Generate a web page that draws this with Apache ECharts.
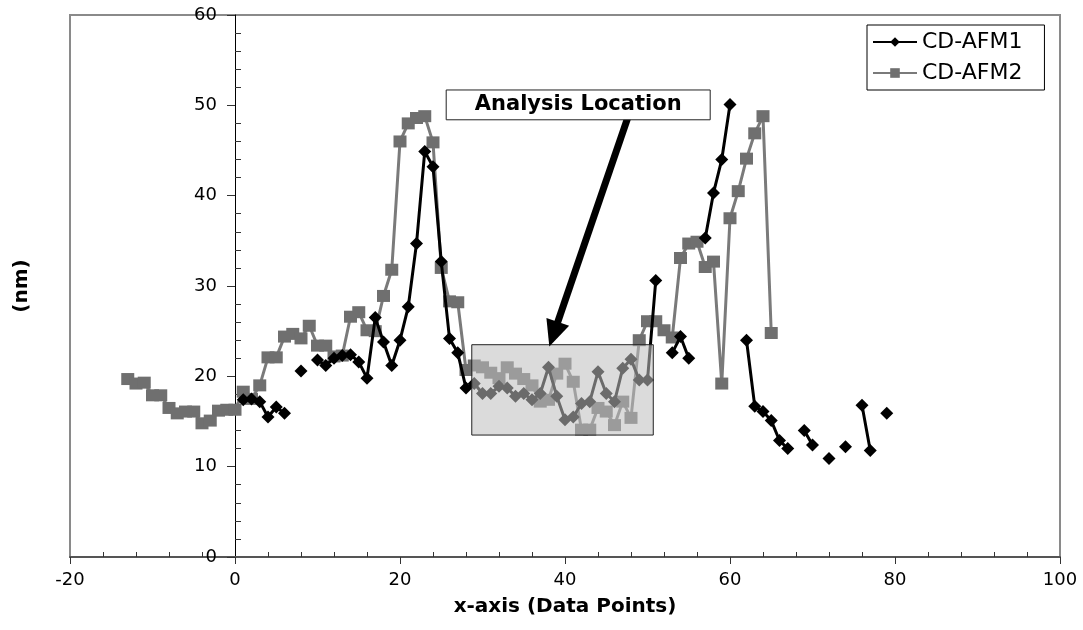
<!DOCTYPE html>
<html>
<head>
<meta charset="utf-8">
<script src="https://cdn.jsdelivr.net/npm/echarts@6/dist/echarts.min.js"></script>
<style>
    html, body { margin: 0; padding: 0; background: #fff; }
    #box { width: 1083px; height: 630px; }
</style>
</head>
<body>
<div id="box"></div>
<script>
/* data */
var afm1X = [1, 2, 3, 4, 5, 6, 7, 8, 9, 10, 11, 12, 13, 14, 15, 16, 17, 18, 19, 20,
    21, 22, 23, 24, 25, 26, 27, 28, 29, 30, 31, 32, 33, 34, 35, 36, 37, 38, 39, 40,
    41, 42, 43, 44, 45, 46, 47, 48, 49, 50, 51, 52, 53, 54, 55, 56, 57, 58, 59, 60,
    61, 62, 63, 64, 65, 66, 67, 68, 69, 70, 71, 72, 73, 74, 75, 76, 77, 78, 79];
var afm1Y = [17.4, 17.5, 17.2, 15.5, 16.6, 15.9, null, 20.6, null, 21.8, 21.2, 22.0, 22.3, 22.4, 21.6, 19.8, 26.5, 23.8, 21.2, 24.0,
    27.7, 34.7, 44.9, 43.2, 32.7, 24.2, 22.6, 18.7, 19.2, 18.1, 18.1, 18.9, 18.7, 17.8, 18.1, 17.4, 18.1, 21.0, 17.8, 15.2,
    15.5, 17.0, 17.2, 20.5, 18.1, 17.2, 20.9, 21.9, 19.6, 19.6, 30.6, null, 22.6, 24.4, 22.0, null, 35.3, 40.3, 44.0, 50.1,
    null, 24.0, 16.7, 16.1, 15.1, 12.9, 12.0, null, 14.0, 12.4, null, 10.9, null, 12.2, null, 16.8, 11.8, null, 15.9];

var afm2X = [-13, -12, -11, -10, -9, -8, -7, -6, -5, -4, -3, -2, -1, 0, 1, 2, 3, 4, 5, 6,
    7, 8, 9, 10, 11, 12, 13, 14, 15, 16, 17, 18, 19, 20, 21, 22, 23, 24, 25, 26,
    27, 28, 29, 30, 31, 32, 33, 34, 35, 36, 37, 38, 39, 40, 41, 42, 43, 44, 45, 46,
    47, 48, 49, 50, 51, 52, 53, 54, 55, 56, 57, 58, 59, 60, 61, 62, 63, 64, 65];
var afm2Y = [19.7, 19.2, 19.3, 17.9, 17.9, 16.5, 15.9, 16.1, 16.1, 14.8, 15.1, 16.2, 16.3, 16.3, 18.3, 17.5, 19.0, 22.1, 22.1, 24.4,
    24.7, 24.2, 25.6, 23.4, 23.4, 22.2, 22.3, 26.6, 27.1, 25.1, 25.0, 28.9, 31.8, 46.0, 48.0, 48.6, 48.8, 45.9, 32.0, 28.3,
    28.2, 20.7, 21.2, 21.0, 20.4, 19.8, 21.0, 20.3, 19.7, 19.0, 17.2, 17.4, 20.3, 21.4, 19.4, 14.1, 14.1, 16.5, 16.1, 14.6,
    17.2, 15.4, 24.0, 26.1, 26.1, 25.1, 24.3, 33.1, 34.7, 34.9, 32.1, 32.7, 19.2, 37.5, 40.5, 44.1, 46.9, 48.8, 24.8];

var seriesNames = ['CD-AFM1', 'CD-AFM2'];
var xTicks = { min: -20, max: 100, step: 20 };
var yTicks = { min: 0, max: 60, step: 10 };

/* annotation, in data units */
var boxCorners = [[28.7, 23.5], [50.7, 13.5]];
var labelCorners = [[25.6, 51.7], [57.6, 48.4]];
var labelText = 'Analysis Location';
var arrowFrom = [47.6, 48.6];
var arrowTo = [38.1, 23.3];

var font = 'DejaVu Sans';

var toPairs = function (xs, ys) {
    return xs.map(function (x, i) {
        return [x, ys[i] === null ? '-' : ys[i]];
    });
};

var box = document.getElementById('box');
var myChart = echarts.init(box);

var options = {
    animation: false,
    backgroundColor: '#fff',
    grid: {
        left: 70,
        right: 23,
        top: 15,
        bottom: 73,
        containLabel: false,
        outerBoundsMode: 'none',
        show: true,
        borderColor: '#8a8a8a',
        borderWidth: 2,
        backgroundColor: 'transparent'
    },
    legend: {
        orient: 'vertical',
        left: 867,
        top: 25,
        padding: [6, 22, 6, 5],
        itemGap: 9,
        itemWidth: 44,
        itemHeight: 12,
        borderColor: '#000',
        borderWidth: 1,
        backgroundColor: '#fff',
        textStyle: { fontFamily: font, fontSize: 22, color: '#000' },
        data: seriesNames
    },
    xAxis: {
        type: 'value',
        min: xTicks.min,
        max: xTicks.max,
        interval: xTicks.step,
        name: 'x-axis (Data Points)',
        nameLocation: 'middle',
        nameGap: 40,
        nameTextStyle: { fontFamily: font, fontSize: 20, fontWeight: 'bold', color: '#000' },
        axisLine: { lineStyle: { color: '#555', width: 2 } },
        axisTick: { length: 7, lineStyle: { color: '#333', width: 1 } },
        minorTick: { show: true, splitNumber: 5, length: -5, lineStyle: { color: '#333', width: 1 } },
        axisLabel: { fontFamily: font, fontSize: 18, color: '#000', margin: 14 },
        splitLine: { show: false }
    },
    yAxis: {
        type: 'value',
        min: yTicks.min,
        max: yTicks.max,
        interval: yTicks.step,
        offset: 0,
        name: '(nm)',
        nameLocation: 'middle',
        nameGap: 203,
        nameTextStyle: { fontFamily: font, fontSize: 20, fontWeight: 'bold', color: '#000' },
        axisLine: { onZero: false, lineStyle: { color: '#000', width: 1 } },
        axisTick: { length: 8, lineStyle: { color: '#333', width: 1 } },
        minorTick: { show: true, splitNumber: 5, length: -6, lineStyle: { color: '#333', width: 1 } },
        axisLabel: { fontFamily: font, fontSize: 18, color: '#000', margin: 18 },
        splitLine: { show: false }
    },
    series: [
        {
            name: seriesNames[1],
            type: 'line',
            z: 2,
            data: toPairs(afm2X, afm2Y),
            connectNulls: false,
            symbol: 'rect',
            symbolSize: [13, 12],
            showAllSymbol: true,
            itemStyle: { color: '#6f6f6f' },
            lineStyle: { color: '#7a7a7a', width: 3 }
        },
        {
            name: seriesNames[0],
            type: 'line',
            z: 3,
            data: toPairs(afm1X, afm1Y),
            connectNulls: false,
            symbol: 'diamond',
            symbolSize: 13,
            showAllSymbol: true,
            itemStyle: { color: '#000' },
            lineStyle: { color: '#000', width: 3 }
        }
    ]
};
myChart.setOption(options);

var px = function (p) {
    return myChart.convertToPixel({ gridIndex: 0 }, p);
};

/* move the y axis over to x = 0, like the original */
var leftEdge = px([xTicks.min, 0])[0];
var zeroX = px([0, 0])[0];
myChart.setOption({ yAxis: { offset: -(zeroX - leftEdge) } });

/* the shaded box, arrow and label, placed through the axes */
var b0 = px(boxCorners[0]), b1 = px(boxCorners[1]);
var l0 = px(labelCorners[0]), l1 = px(labelCorners[1]);
var a0 = px(arrowFrom), a1 = px(arrowTo);

var dx = a1[0] - a0[0], dy = a1[1] - a0[1];
var len = Math.sqrt(dx * dx + dy * dy);
var ux = dx / len, uy = dy / len;
var headLen = 26, headHalf = 12;
var baseX = a1[0] - ux * headLen, baseY = a1[1] - uy * headLen;

myChart.setOption({
    graphic: [
        {
            type: 'rect',
            z: 50,
            shape: { x: b0[0], y: b0[1], width: b1[0] - b0[0], height: b1[1] - b0[1] },
            style: { fill: 'rgba(190,190,190,0.56)', stroke: '#222', lineWidth: 1 }
        },
        {
            type: 'line',
            z: 51,
            shape: { x1: a0[0], y1: a0[1], x2: baseX + ux * 2, y2: baseY + uy * 2 },
            style: { stroke: '#000', lineWidth: 7 }
        },
        {
            type: 'polygon',
            z: 51,
            shape: {
                points: [
                    [a1[0], a1[1]],
                    [baseX - uy * headHalf, baseY + ux * headHalf],
                    [baseX + uy * headHalf, baseY - ux * headHalf]
                ]
            },
            style: { fill: '#000' }
        },
        {
            type: 'rect',
            z: 52,
            shape: { x: l0[0], y: l0[1], width: l1[0] - l0[0], height: l1[1] - l0[1] },
            style: { fill: '#fff', stroke: '#222', lineWidth: 1 }
        },
        {
            type: 'text',
            z: 53,
            x: (l0[0] + l1[0]) / 2,
            y: (l0[1] + l1[1]) / 2,
            style: {
                text: labelText,
                fontFamily: font,
                fontSize: 21,
                fontWeight: 'bold',
                fill: '#000',
                align: 'center',
                verticalAlign: 'middle'
            }
        }
    ]
});
</script>
</body>
</html>
